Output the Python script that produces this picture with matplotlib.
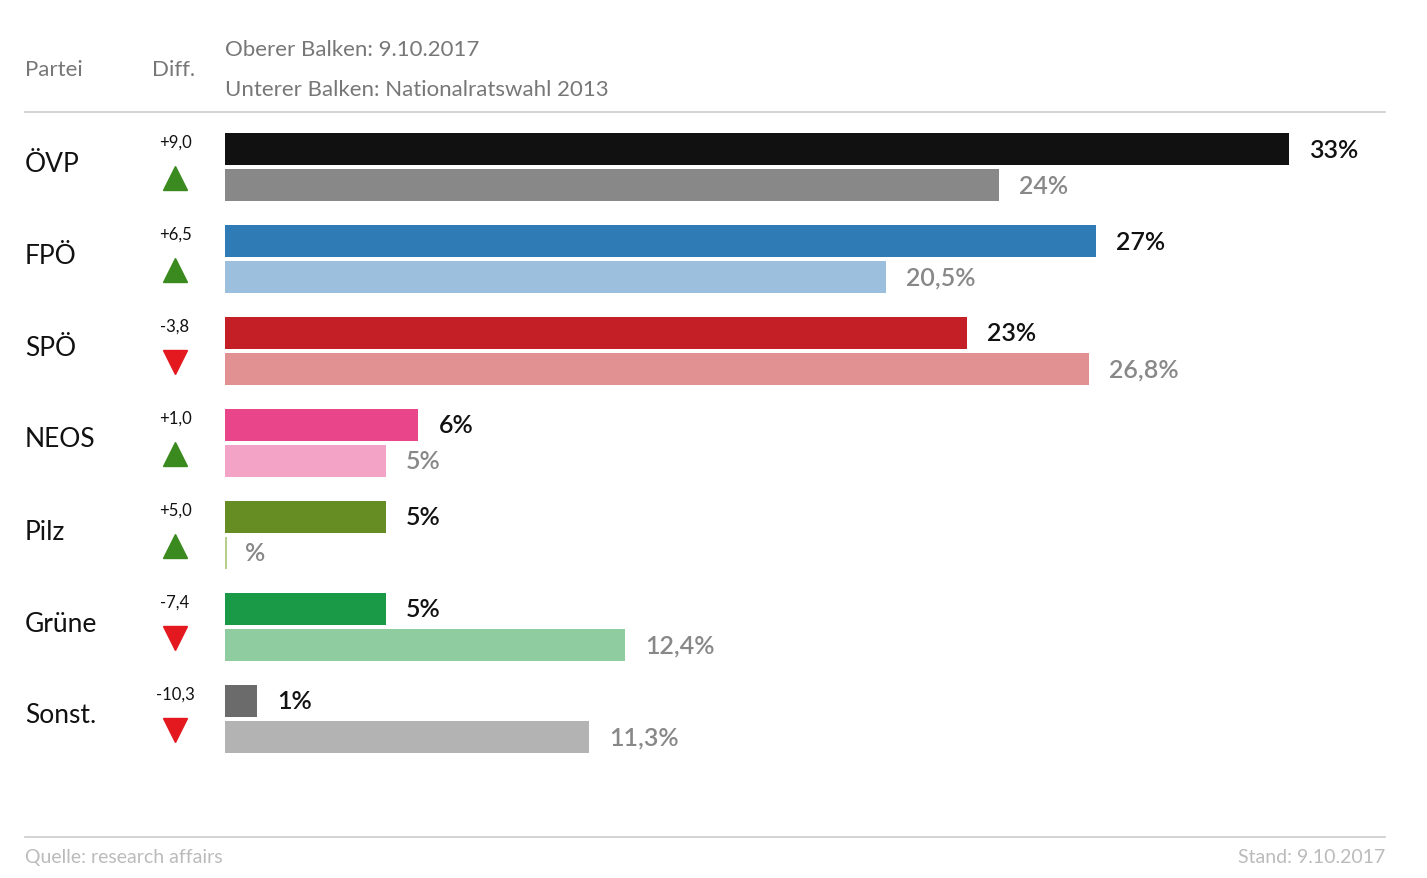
import matplotlib
matplotlib.use('Agg')
import matplotlib.pyplot as plt
from matplotlib.lines import Line2D

W, H = 1427, 879
plt.rcParams['font.family'] = ['Lato', 'DejaVu Sans']

parties = ["ÖVP", "FPÖ", "SPÖ", "NEOS", "Pilz", "Grüne", "Sonst."]
diffs = ["+9,0", "+6,5", "-3,8", "+1,0", "+5,0", "-7,4", "-10,3"]
upper = [33, 27, 23, 6, 5, 5, 1]
lower = [24, 20.5, 26.8, 5, 0, 12.4, 11.3]
upper_lbl = ["33%", "27%", "23%", "6%", "5%", "5%", "1%"]
lower_lbl = ["24%", "20,5%", "26,8%", "5%", "%", "12,4%", "11,3%"]
col_up = ["#111111", "#2e7bb6", "#c41e27", "#e8458b", "#668c24", "#1a9946", "#6b6b6b"]
col_lo = ["#888888", "#9bbfdc", "#e29192", "#f3a3c6", "#b5cf8a", "#8fcca0", "#b3b3b3"]

fig = plt.figure(figsize=(W / 100, H / 100), dpi=100)

def px(x, y):
    return x / W, 1 - y / H

# bar axes: x in percent, y in row units (row i: upper at i, lower at i+0.39)
scale = (1289 - 225) / 33.0
ax = fig.add_axes([225 / W, 1 - 770 / H, (1385 - 225) / W, (770 - 120) / H])
ax.set_xlim(0, (1385 - 225) / scale)
ax.set_ylim((770 - 150) / 92.0, (120 - 150) / 92.0)
ax.axis('off')
bh = 32 / 92.0
off = 36 / 92.0
for i in range(len(parties)):
    ax.barh(i, upper[i], height=bh, color=col_up[i])
    ax.barh(i + off, max(lower[i], 0.05), height=bh, color=col_lo[i])
    ax.text(upper[i] + 20 / scale, i, upper_lbl[i], va='center', ha='left',
            fontsize=18, color='#111111', fontweight='semibold')
    ax.text(max(lower[i], 0) + 20 / scale, i + off, lower_lbl[i], va='center', ha='left',
            fontsize=18, color='#888888', fontweight='semibold')

# left columns
for i, (p, d) in enumerate(zip(parties, diffs)):
    y0 = 92 * i
    fig.text(*px(25, 164 + y0), p, fontsize=19, va='center', ha='left', color='#111111')
    fig.text(*px(175, 143 + y0), d, fontsize=12, va='center', ha='center', color='#111111')
    up = d.startswith('+')
    fig.add_artist(Line2D([175 / W], [1 - (179 + y0) / H], marker='^' if up else 'v',
                          markersize=17, color='#3a8a1f' if up else '#e3191f',
                          linestyle='none', transform=fig.transFigure))

# header
fig.text(*px(25, 70), "Partei", fontsize=16, va='center', color='#777777')
fig.text(*px(152, 70), "Diff.", fontsize=16, va='center', color='#777777')
fig.text(*px(225, 50), "Oberer Balken: 9.10.2017", fontsize=16, va='center', color='#777777')
fig.text(*px(225, 90), "Unterer Balken: Nationalratswahl 2013", fontsize=16, va='center', color='#777777')
for yy in (113, 838):
    fig.add_artist(Line2D([25 / W, 1385 / W], [1 - yy / H] * 2, color='#cccccc',
                          linewidth=1.2, transform=fig.transFigure))

# footer
fig.text(*px(25, 858), "Quelle: research affairs", fontsize=14, va='center', color='#bbbbbb')
fig.text(*px(1385, 858), "Stand: 9.10.2017", fontsize=14, va='center', ha='right', color='#bbbbbb')

fig.savefig("out.png", dpi=100, facecolor='white')
